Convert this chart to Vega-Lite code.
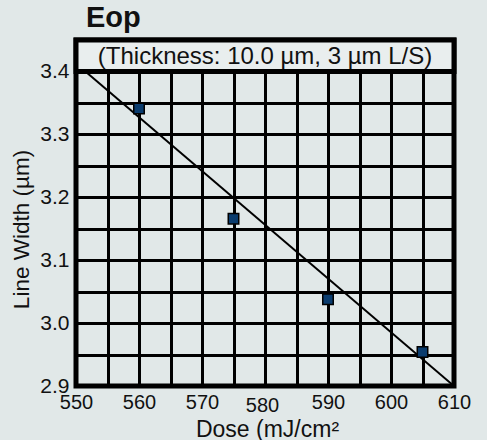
{
  "$schema": "https://vega.github.io/schema/vega-lite/v6.json",
  "width": 378,
  "height": 346,
  "autosize": {"type": "none"},
  "padding": {"left": 76, "top": 40, "right": 33, "bottom": 54},
  "background": "#e1e8e8",
  "title": {"text": "Eop", "anchor": "start", "frame": "group", "dx": 10, "fontSize": 29, "fontWeight": "bold", "font": "Liberation Sans", "color": "#111111", "offset": 5},
  "config": {
    "font": "Liberation Sans",
    "view": {"stroke": "#000000", "strokeWidth": 5}
  },
  "datasets": {
    "points": [
      {"dose": 560, "width": 3.341},
      {"dose": 575, "width": 3.166},
      {"dose": 590, "width": 3.038},
      {"dose": 605, "width": 2.954}
    ],
    "fit": [
      {"dose": 551.5, "width": 3.4},
      {"dose": 610, "width": 2.9}
    ],
    "box": [
      {"dose": 550, "dose2": 610, "width": 3.4, "width2": 3.45}
    ],
    "note": [
      {"label": "(Thickness: 10.0 µm, 3 µm L/S)", "dose": 580, "width": 3.425}
    ]
  },
  "encoding": {
    "x": {
      "field": "dose", "type": "quantitative",
      "scale": {"domain": [550, 610], "nice": false, "zero": false},
      "axis": {
        "values": [550, 555, 560, 565, 570, 575, 580, 585, 590, 595, 600, 605, 610],
        "labelExpr": "datum.value % 10 == 0 ? datum.label : ''",
        "grid": true, "gridColor": "#000000", "gridWidth": 3, "gridOpacity": 1,
        "ticks": false, "domain": false,
        "labelFontSize": 20, "labelColor": "#111111", "labelFont": "Liberation Sans",
        "labelPadding": {"condition": {"test": "datum.value == 580", "value": 9}, "value": 6},
        "labelOffset": {"condition": {"test": "datum.value == 580", "value": -3}, "value": 0},
        "labelOverlap": false, "labelFlush": false,
        "title": "Dose (mJ/cm²",
        "titleFontSize": 23, "titleFontWeight": "normal", "titleColor": "#111111",
        "titleBaseline": "alphabetic", "titleY": 50, "titleX": 191
      }
    },
    "y": {
      "field": "width", "type": "quantitative",
      "scale": {"domain": [2.9, 3.45], "nice": false, "zero": false},
      "axis": {
        "values": [2.9, 2.95, 3.0, 3.05, 3.1, 3.15, 3.2, 3.25, 3.3, 3.35, 3.4],
        "labelExpr": "abs(datum.value * 10 - round(datum.value * 10)) < 0.01 ? format(datum.value, '.1f') : ''",
        "grid": true, "gridColor": "#000000", "gridWidth": 3, "gridOpacity": 1,
        "ticks": false, "domain": false,
        "labelFontSize": 21, "labelColor": "#111111", "labelPadding": 7,
        "labelOverlap": false, "labelFlush": false,
        "title": "Line Width (µm)",
        "titleFontSize": 22.5, "titleFontWeight": "normal", "titleColor": "#111111",
        "titleAngle": -90, "titleX": -55, "titleY": 189, "titleAlign": "center", "titleBaseline": "middle"
      }
    }
  },
  "layer": [
    {
      "data": {"name": "fit"},
      "mark": {"type": "line", "color": "#000000", "strokeWidth": 2, "clip": true}
    },
    {
      "data": {"name": "points"},
      "mark": {"type": "point", "shape": "square", "filled": true, "size": 110, "fill": "#0a3c6e", "stroke": "#000000", "strokeWidth": 1.5, "opacity": 1}
    },
    {
      "data": {"name": "box"},
      "mark": {"type": "rect", "fill": "#e9eeee", "stroke": "#000000", "strokeWidth": 5},
      "encoding": {
        "x2": {"field": "dose2"},
        "y2": {"field": "width2"}
      }
    },
    {
      "data": {"name": "note"},
      "mark": {"type": "text", "fontSize": 24, "color": "#111111", "baseline": "middle", "align": "center", "dy": 1},
      "encoding": {
        "text": {"field": "label"}
      }
    }
  ]
}
